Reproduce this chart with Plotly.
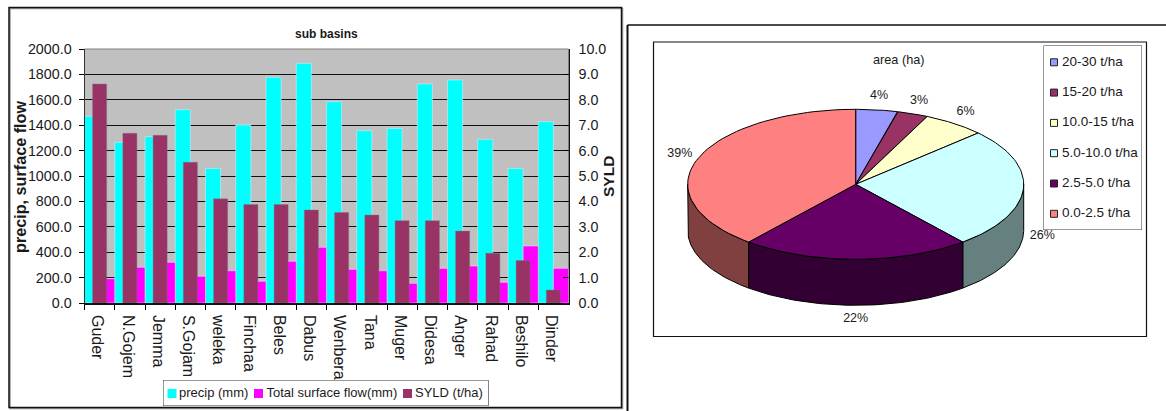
import numpy as np
import plotly.graph_objects as go

W, H = 1166, 411

# Sub-basin bar chart data
basins = ["Guder", "N.Gojem", "Jemma", "S.Gojam", "weleka", "Finchaa", "Beles", "Dabus",
          "Wenbera", "Tana", "Muger", "Didesa", "Anger", "Rahad", "Beshilo", "Dinder"]
precip_mm = [1470, 1265, 1310, 1522, 1060, 1402, 1777, 1887,
             1585, 1357, 1375, 1725, 1756, 1289, 1060, 1428]
surface_flow_mm = [191, 281, 320, 210, 254, 171, 328, 438,
                   265, 254, 155, 273, 291, 163, 449, 273]
syld_t_ha = [8.62, 6.68, 6.60, 5.54, 4.10, 3.88, 3.88, 3.66,
             3.56, 3.46, 3.24, 3.24, 2.83, 1.96, 1.67, 0.51]
bar_names = ["precip (mm)", "Total surface flow(mm)", "SYLD (t/ha)"]
bar_colors = ["#00FFFF", "#FF00FF", "#993366"]

# Erosion class share of area
area_classes = ["20-30 t/ha", "15-20 t/ha", "10.0-15 t/ha", "5.0-10.0 t/ha", "2.5-5.0 t/ha", "0.0-2.5 t/ha"]
area_percent = [4, 3, 6, 26, 22, 39]
top_colors = ["#9999FF", "#993366", "#FFFFCC", "#CCFFFF", "#660066", "#FF8080"]
side_colors = ["#4C4C80", "#4C1933", "#808066", "#668080", "#330033", "#804040"]

FONT = "Liberation Sans, Arial, sans-serif"
TEXT = "#1a1a1a"


def px_x(p):
    return p / W


def px_y(p):
    return 1 - p / H


fig = go.Figure()

# Two primary-axis series share each category; SYLD sits centred on top of them
fig.add_trace(go.Bar(x=basins, y=precip_mm, name=bar_names[0], marker_color=bar_colors[0],
                     width=0.5, offset=-0.5, xaxis="x", yaxis="y", showlegend=False))
fig.add_trace(go.Bar(x=basins, y=surface_flow_mm, name=bar_names[1], marker_color=bar_colors[1],
                     width=0.5, offset=0, xaxis="x", yaxis="y", showlegend=False))
fig.add_trace(go.Bar(x=basins, y=syld_t_ha, name=bar_names[2], marker_color=bar_colors[2],
                     marker_line=dict(color="rgba(120,120,120,0.7)", width=0.6),
                     width=0.465, offset=-0.2325, xaxis="x", yaxis="y2", showlegend=False))

# Pie geometry, in units of the horizontal radius
SQUASH = 75 / 168
DEPTH = 46 / 168
CX, CY = 855.7, 184.3
SCALE = 168
FX0, FX1, FY0, FY1 = 653.5, 1146, 41.7, 336

edges = np.cumsum([0] + area_percent) * 3.6


def rim(a0, a1, n=60):
    t = np.radians(np.linspace(a0, a1, n))
    return np.sin(t), np.cos(t) * SQUASH


def wedge_trace(xs, ys, color, name):
    return go.Scatter(x=xs, y=ys, mode="lines", fill="toself", fillcolor=color, name=name,
                      line=dict(color="#000000", width=1), showlegend=False, hoverinfo="skip",
                      xaxis="x3", yaxis="y3")


# Outer wall of the near half of the disc
for i, name in enumerate(area_classes):
    a0, a1 = max(edges[i], 90), min(edges[i + 1], 270)
    if a0 < a1:
        rx, ry = rim(a0, a1)
        xs = np.r_[rx, rx[::-1], rx[0]]
        ys = np.r_[ry, ry[::-1] - DEPTH, ry[0]]
        fig.add_trace(wedge_trace(xs, ys, side_colors[i], name))

# Top face slices
for i, name in enumerate(area_classes):
    rx, ry = rim(edges[i], edges[i + 1])
    fig.add_trace(wedge_trace(np.r_[0, rx, 0], np.r_[0, ry, 0], top_colors[i], name))

# Percentage labels just outside each slice's rim, below the wall on the near side
mid = np.radians((edges[:-1] + edges[1:]) / 2)
lab_x = np.sin(mid) * (1 + 19 / SCALE)
lab_y = np.cos(mid) * (SQUASH + 14 / SCALE) - np.where(np.cos(mid) < 0, DEPTH, 0)
fig.add_trace(go.Scatter(x=lab_x, y=lab_y, mode="text", text=[f"{p}%" for p in area_percent],
                         textfont=dict(family=FONT, size=12.5, color=TEXT), showlegend=False,
                         hoverinfo="skip", xaxis="x3", yaxis="y3"))


def key_box(w, h, axis_x, axis_y):
    """Shadowed white panel drawn as traces so it can cover the tick labels beneath it."""
    panels = []
    for off, fill, edge in [(1.5, "#909090", "#909090"), (0, "#FFFFFF", "#333333")]:
        panels.append(go.Scatter(x=[off, w + off, w + off, off, off], y=[off, off, h + off, h + off, off],
                                 mode="lines", fill="toself", fillcolor=fill,
                                 line=dict(color=edge, width=1), cliponaxis=False, showlegend=False,
                                 hoverinfo="skip", xaxis=axis_x, yaxis=axis_y))
    return panels


# Class key beside the pie; axes measure the panel from its top-left corner
KEY_X0, KEY_X1, KEY_Y0, KEY_Y1 = 1043.5, 1142, 45.5, 230
KEY_STEP = 30.3
key_w, key_h = KEY_X1 - KEY_X0, KEY_Y1 - KEY_Y0
fig.add_traces(key_box(key_w, key_h, "x4", "y4"))
fig.add_trace(go.Scatter(x=[10.5] * 6, y=[16.8 + KEY_STEP * i for i in range(6)], mode="markers",
                         marker=dict(symbol="square", size=7, color=top_colors,
                                     line=dict(color="#222222", width=1)),
                         showlegend=False, hoverinfo="skip", xaxis="x4", yaxis="y4"))
fig.add_trace(go.Scatter(x=[18.5] * 6, y=[16.8 + KEY_STEP * i for i in range(6)], mode="text",
                         text=area_classes, textposition="middle right",
                         textfont=dict(family=FONT, size=13.5, color=TEXT),
                         cliponaxis=False, showlegend=False, hoverinfo="skip", xaxis="x4", yaxis="y4"))

# Series key under the bars, same construction
BKEY_X0, BKEY_X1, BKEY_Y0, BKEY_Y1 = 163, 488.5, 380, 406
bkey_w, bkey_h = BKEY_X1 - BKEY_X0, BKEY_Y1 - BKEY_Y0
swatch_x = [9, 95.5, 244.5]
label_x = [16, 103.5, 252]
fig.add_traces(key_box(bkey_w, bkey_h, "x5", "y5"))
fig.add_trace(go.Scatter(x=swatch_x, y=[13.5] * 3, mode="markers",
                         marker=dict(symbol="square", size=9, color=bar_colors, line=dict(width=0)),
                         showlegend=False, hoverinfo="skip", xaxis="x5", yaxis="y5"))
fig.add_trace(go.Scatter(x=label_x, y=[13.5] * 3, mode="text", text=bar_names, textposition="middle right",
                         textfont=dict(family=FONT, size=13, color=TEXT),
                         cliponaxis=False, showlegend=False, hoverinfo="skip", xaxis="x5", yaxis="y5"))

shapes = []


def frame(x0, y0, x1, y1, color="#111111", width=1.5, fill=None):
    shapes.append(dict(type="rect", xref="paper", yref="paper", x0=px_x(x0), x1=px_x(x1),
                       y0=px_y(y0), y1=px_y(y1), line=dict(color=color, width=width),
                       fillcolor=fill or "rgba(0,0,0,0)", layer="below"))


frame(10, 8.5, 622.5, 408.5, color="#999999")
frame(9, 7.5, 621.5, 407.5)
frame(653.5, 42, 1146.5, 336.5, width=1.2)
frame(84.5, 49, 568.5, 303, color="#808080", width=1, fill="#C0C0C0")

# Page rule framing the right-hand chart
for seg, w in [((627.5, 25, 1166, 25), 1.5), ((627.5, 25, 627.5, 411), 2)]:
    shapes.append(dict(type="line", xref="paper", yref="paper", x0=px_x(seg[0]), x1=px_x(seg[2]),
                       y0=px_y(seg[1]), y1=px_y(seg[3]), line=dict(color="#111111", width=w)))

y_tick_font = dict(family=FONT, size=14.3, color=TEXT)
x_tick_font = dict(family=FONT, size=16, color=TEXT)

fig.update_layout(
    width=W, height=H, autosize=False, margin=dict(l=0, r=0, t=0, b=0),
    paper_bgcolor="#FFFFFF", plot_bgcolor="rgba(0,0,0,0)",
    barmode="overlay", shapes=shapes, showlegend=False,
    font=dict(family=FONT, color=TEXT),
    xaxis=dict(domain=[px_x(84.5), px_x(568.5)], type="category", categoryorder="array", categoryarray=basins,
               range=[-0.5, 15.5], tickson="boundaries", ticks="outside", ticklen=5, tickcolor="#000000",
               tickangle=90, tickfont=x_tick_font, ticklabelstandoff=7, ticklabelshift=-2, showline=True,
               linecolor="#111111", linewidth=1.5, showgrid=False, anchor="y", automargin=False),
    yaxis=dict(domain=[px_y(303), px_y(49)], range=[0, 2000], dtick=200, tickformat=".1f",
               ticks="outside", ticklen=5, tickcolor="#000000", tickfont=y_tick_font, ticklabelstandoff=4,
               showline=True, linecolor="#333333", linewidth=1,
               gridcolor="#111111", gridwidth=1.3, zeroline=False, anchor="x", automargin=False),
    yaxis2=dict(domain=[px_y(303), px_y(49)], range=[0, 10], dtick=1, tickformat=".1f", overlaying="y", side="right",
                ticks="inside", ticklen=5, tickcolor="#000000", tickfont=y_tick_font, ticklabelstandoff=6,
                ticklabelposition="outside", showline=True, linecolor="#111111", linewidth=1.2,
                showgrid=False, zeroline=False, anchor="x", automargin=False),
    xaxis3=dict(domain=[px_x(FX0), px_x(FX1)], range=[(FX0 - CX) / SCALE, (FX1 - CX) / SCALE],
                visible=False, anchor="y3", automargin=False),
    yaxis3=dict(domain=[px_y(FY1), px_y(FY0)], range=[(CY - FY1) / SCALE, (CY - FY0) / SCALE],
                visible=False, anchor="x3", automargin=False),
    xaxis4=dict(domain=[px_x(KEY_X0), px_x(KEY_X1)], range=[0, key_w], visible=False, anchor="y4", automargin=False),
    yaxis4=dict(domain=[px_y(KEY_Y1), px_y(KEY_Y0)], range=[key_h, 0], visible=False, anchor="x4", automargin=False),
    xaxis5=dict(domain=[px_x(BKEY_X0), px_x(BKEY_X1)], range=[0, bkey_w], visible=False, anchor="y5", automargin=False),
    yaxis5=dict(domain=[px_y(BKEY_Y1), px_y(BKEY_Y0)], range=[bkey_h, 0], visible=False, anchor="x5", automargin=False),
    annotations=[
        dict(text="<b>sub basins</b>", xref="paper", yref="paper", x=px_x(326.5), y=px_y(34.5), showarrow=False,
             xanchor="center", yanchor="middle", font=dict(family=FONT, size=12, color=TEXT)),
        dict(text="area (ha)", xref="paper", yref="paper", x=px_x(899), y=px_y(60), showarrow=False,
             xanchor="center", yanchor="middle", font=dict(family=FONT, size=12.7, color=TEXT)),
        dict(text="<b>precip, surface flow</b>", xref="paper", yref="paper", x=px_x(20), y=px_y(177), showarrow=False,
             xanchor="center", yanchor="middle", textangle=-90, font=dict(family=FONT, size=16.2, color=TEXT)),
        dict(text="<b>SYLD</b>", xref="paper", yref="paper", x=px_x(609), y=px_y(176), showarrow=False,
             xanchor="center", yanchor="middle", textangle=-90, font=dict(family=FONT, size=15.5, color=TEXT)),
    ],
)

fig.write_html("out.html")
